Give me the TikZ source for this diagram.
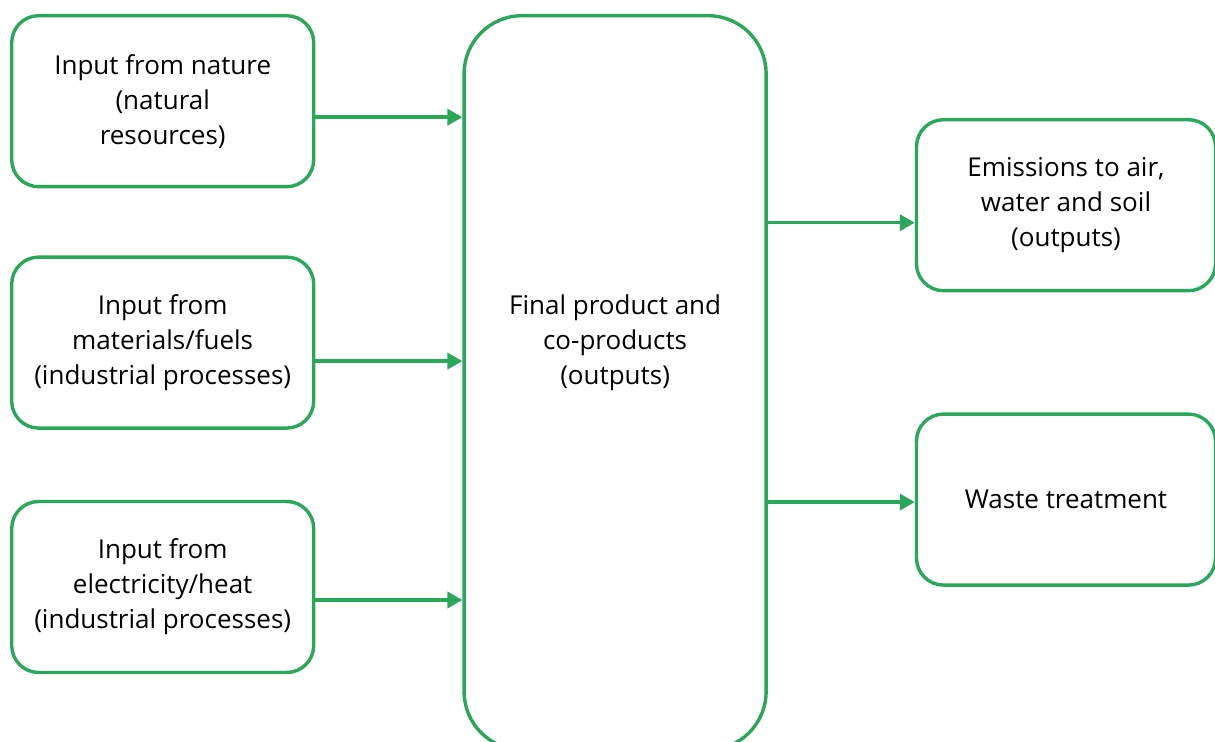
\documentclass[tikz,border=0pt]{standalone}
\usepackage{fontspec}
\setmainfont{Open Sans}
\usetikzlibrary{arrows.meta,positioning}
\definecolor{lcagreen}{RGB}{42,168,90}

\begin{document}
\begin{tikzpicture}[x = 0.5pt, y = -0.5pt,
    box/.style = {draw = lcagreen, line width = 1.7pt,
      rounded corners = 13.5pt, minimum width = 151pt,
      minimum height = 85.5pt, align = center, inner sep = 0pt,
      font = \fontsize{13}{17.5}\selectfont},
    flow/.style = {draw = lcagreen, line width = 1.8pt,
      -{Triangle[length = 7.5pt, width = 8pt]}},
  ]
  \useasboundingbox (0,0) rectangle (1215,742);
  \node [box, anchor = north west] (nature) at (10,14)
    {Input from nature\\(natural\\resources)};
  \node [box, below = 33.5pt of nature] (materials)
    {Input from\\materials/fuels\\(industrial processes)};
  \node [box, below = 35pt of materials] (electricity)
    {Input from\\electricity/heat\\(industrial processes)};
  \node [box, rounded corners = 29pt, minimum width = 151pt,
    minimum height = 367pt, right = 73.5pt of nature.north east,
    anchor = north west] (product) {};
  \node [align = center, font = \fontsize{13}{17.5}\selectfont]
    (producttext) at ([yshift = 19.75pt]product.center)
    {Final product and\\co-products\\(outputs)};
  \node [box, minimum width = 149.5pt,
    below right = 52pt and 73.5pt of product.north east] (emissions)
    {Emissions to air,\\water and soil\\(outputs)};
  \node [box, minimum width = 149.5pt, below = 60pt of emissions] (waste)
    {Waste treatment};
  \foreach \src/\dy in {nature/-8pt, materials/-9.25pt, electricity/-6.5pt}
    \draw [flow] ([yshift = \dy]\src.east) -- ([yshift = \dy]\src.east -| product.west);
  \foreach \dst/\dy in {emissions/-8.75pt, waste/-1.25pt}
    \draw [flow] ([yshift = \dy]\dst.west -| product.east) -- ([yshift = \dy]\dst.west);
\end{tikzpicture}
\end{document}
